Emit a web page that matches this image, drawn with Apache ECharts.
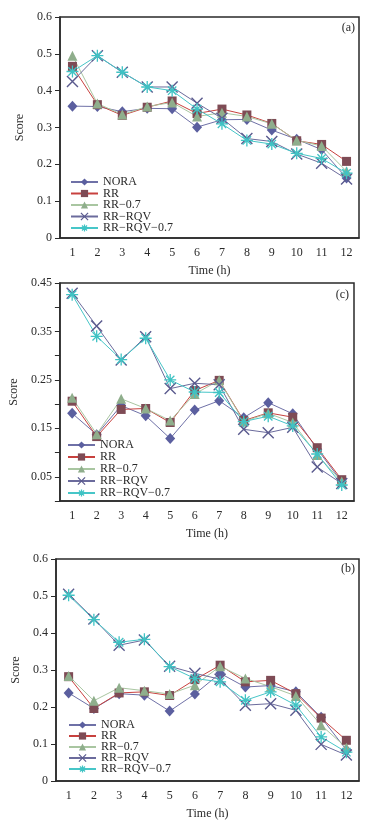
<!DOCTYPE html>
<html>
<head>
<meta charset="utf-8">
<title>Score</title>
<script src="https://cdn.jsdelivr.net/npm/echarts@6/dist/echarts.min.js"></script>
<style>
    html, body { margin: 0; padding: 0; background: #fff; }
    #chart { width: 375px; height: 833px; }
</style>
</head>
<body>
<div id="chart"></div>
<script>
// hours on x axis
var hours = ['1', '2', '3', '4', '5', '6', '7', '8', '9', '10', '11', '12'];
var names = ['NORA', 'RR', 'RR\u22120.7', 'RR\u2212RQV', 'RR\u2212RQV\u22120.7'];

// panel (a)
var noraA  = [0.358, 0.357, 0.343, 0.352, 0.351, 0.301, 0.321, 0.322, 0.293, 0.268, 0.240, 0.163];
var rrA    = [0.466, 0.362, 0.333, 0.355, 0.372, 0.338, 0.350, 0.334, 0.311, 0.264, 0.254, 0.208];
var rr07A  = [0.495, 0.365, 0.335, 0.357, 0.368, 0.330, 0.340, 0.330, 0.310, 0.265, 0.250, 0.181];
var rqvA   = [0.425, 0.495, 0.450, 0.410, 0.410, 0.366, 0.325, 0.270, 0.262, 0.228, 0.203, 0.160];
var rqv07A = [0.452, 0.495, 0.450, 0.410, 0.400, 0.350, 0.310, 0.265, 0.255, 0.230, 0.216, 0.176];

// panel (c)
var noraC  = [0.181, 0.137, 0.197, 0.176, 0.129, 0.188, 0.207, 0.172, 0.203, 0.180, 0.107, 0.040];
var rrC    = [0.206, 0.133, 0.189, 0.191, 0.162, 0.228, 0.249, 0.166, 0.182, 0.173, 0.110, 0.044];
var rr07C  = [0.213, 0.138, 0.211, 0.191, 0.166, 0.221, 0.249, 0.164, 0.181, 0.162, 0.095, 0.040];
var rqvC   = [0.429, 0.361, 0.291, 0.339, 0.232, 0.243, 0.240, 0.148, 0.141, 0.152, 0.070, 0.036];
var rqv07C = [0.426, 0.340, 0.292, 0.336, 0.250, 0.225, 0.224, 0.164, 0.175, 0.155, 0.097, 0.033];

// panel (b)
var noraB  = [0.238, 0.196, 0.236, 0.232, 0.189, 0.235, 0.291, 0.254, 0.258, 0.241, 0.172, 0.084];
var rrB    = [0.282, 0.196, 0.238, 0.241, 0.231, 0.274, 0.313, 0.268, 0.272, 0.236, 0.170, 0.110];
var rr07B  = [0.284, 0.217, 0.252, 0.244, 0.235, 0.259, 0.310, 0.277, 0.255, 0.230, 0.151, 0.090];
var rqvB   = [0.505, 0.438, 0.367, 0.381, 0.310, 0.291, 0.275, 0.205, 0.209, 0.191, 0.099, 0.070];
var rqv07B = [0.502, 0.436, 0.375, 0.383, 0.309, 0.277, 0.268, 0.218, 0.241, 0.205, 0.119, 0.078];

var serif = "'Liberation Serif', 'DejaVu Serif', serif";
var ink = '#2a2a2a';

// marker / line look per method
var looks = [
    { symbol: 'diamond', size: [10, 11], fill: '#5b5f9f', line: '#6f71a7', stroke: 0 },
    { symbol: 'rect', size: 9, fill: '#7e4b55', line: '#c8413e', stroke: 0 },
    { symbol: 'triangle', size: 10, fill: '#8fae8c', line: '#a9c6a1', stroke: 0 },
    { symbol: 'path://M0,0L10,10M10,0L0,10', size: 11, fill: '#5a5a8e', line: '#6b6b9c', stroke: 1.4 },
    { symbol: 'path://M0,5L10,5M5,0L5,10M1.5,1.5L8.5,8.5M8.5,1.5L1.5,8.5', size: 12, fill: '#3fc3c4', line: '#47c6c8', stroke: 1.3 }
];

var panels = [
    { data: [noraA, rrA, rr07A, rqvA, rqv07A], left: 60, right: 16, top: 17, height: 221, max: 0.6, interval: 0.1, tag: '(a)', tagRight: 20, tagTop: 22, legendLeft: 70, legendTop: 176, legendGap: -0.5 },
    { data: [noraC, rrC, rr07C, rqvC, rqv07C], left: 54, right: 21, top: 283, height: 218, max: 0.45, interval: 0.05, tag: '(c)', tagRight: 26, tagTop: 289, legendLeft: 67, legendTop: 439, legendGap: 0 },
    { data: [noraB, rrB, rr07B, rqvB, rqv07B], left: 56, right: 16, top: 559, height: 222, max: 0.6, interval: 0.1, tag: '(b)', tagRight: 20, tagTop: 563, legendLeft: 68, legendTop: 719, legendGap: -1 }
];

function labelFmt(p) {
    return function (v) {
        if (p.interval === 0.05) {
            var k = Math.round(v * 100);
            return (k % 10 === 5) ? (k / 100).toFixed(2) : '';
        }
        return v === 0 ? '0' : v.toFixed(1);
    };
}

var grid = [], xAxis = [], yAxis = [], series = [], legend = [], title = [];

panels.forEach(function (p, i) {
    grid.push({
        left: p.left, right: p.right, top: p.top, height: p.height,
        show: true, borderColor: ink, borderWidth: 1.5, backgroundColor: 'transparent'
    });
    xAxis.push({
        type: 'category', gridIndex: i, data: hours, boundaryGap: true,
        name: 'Time (h)', nameLocation: 'middle', nameGap: 27,
        nameTextStyle: { fontFamily: serif, fontSize: 12, color: ink },
        axisLine: { lineStyle: { color: ink, width: 1.5 } },
        axisTick: { inside: true, length: 4, lineStyle: { color: ink } },
        axisLabel: { fontFamily: serif, fontSize: 12, color: ink, margin: 9 },
        splitLine: { show: false }
    });
    yAxis.push({
        type: 'value', gridIndex: i, min: 0, max: p.max, interval: p.interval,
        name: 'Score', nameLocation: 'middle', nameGap: 33,
        nameTextStyle: { fontFamily: serif, fontSize: 12, color: ink },
        axisLine: { show: true, lineStyle: { color: ink, width: 1.5 } },
        axisTick: { show: true, length: 5, lineStyle: { color: ink } },
        axisLabel: { fontFamily: serif, fontSize: 12, color: ink, margin: 8, formatter: labelFmt(p) },
        splitLine: { show: false }
    });
    p.data.forEach(function (vals, j) {
        var lk = looks[j];
        series.push({
            name: names[j], type: 'line', xAxisIndex: i, yAxisIndex: i,
            data: vals,
            symbol: lk.symbol, symbolSize: lk.size,
            lineStyle: { color: lk.line, width: 1 },
            itemStyle: lk.stroke
                ? { color: lk.fill, borderColor: lk.fill, borderWidth: lk.stroke }
                : { color: lk.fill, borderWidth: 0 },
            emphasis: { disabled: true },
            animation: false
        });
    });
    legend.push({
        data: names.map(function (n, j) {
            var lk = looks[j];
            return lk.stroke
                ? { name: n, itemStyle: { color: lk.fill, borderColor: lk.fill, borderWidth: 1.2 } }
                : { name: n };
        }),
        orient: 'vertical', left: p.legendLeft, top: p.legendTop, padding: 0,
        itemWidth: 27, itemHeight: 9, itemGap: p.legendGap,
        textStyle: { fontFamily: serif, fontSize: 12, color: ink }
    });
    title.push({
        text: p.tag, right: p.tagRight, top: p.tagTop, padding: 0,
        textStyle: { fontFamily: serif, fontSize: 12, fontWeight: 'normal', color: ink }
    });
});

var myChart = echarts.init(document.getElementById('chart'));
myChart.setOption({
    backgroundColor: '#fff',
    animation: false,
    title: title,
    legend: legend,
    grid: grid,
    xAxis: xAxis,
    yAxis: yAxis,
    series: series
});
</script>
</body>
</html>
